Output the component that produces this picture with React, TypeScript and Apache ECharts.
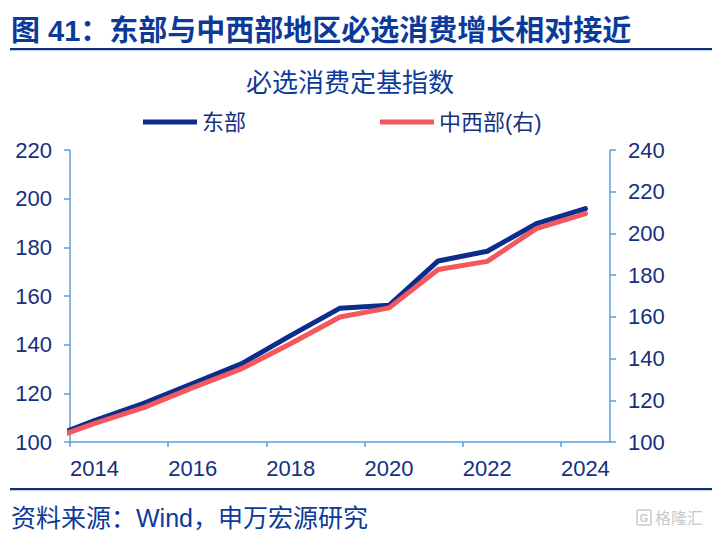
import React, { useEffect, useRef } from "react";
import * as echarts from "echarts";

// Fixed-base index of essential consumption (annual)
const YEARS = [2013, 2014, 2015, 2016, 2017, 2018, 2019, 2020, 2021, 2022, 2023, 2024];
const EAST = [101.0, 108.8, 115.9, 124.0, 132.2, 143.8, 155.0, 156.2, 174.4, 178.4, 189.7, 195.9];
const MIDWEST = [100.5, 108.9, 116.5, 126.1, 135.2, 147.2, 159.9, 164.3, 182.7, 186.6, 202.3, 209.5];
const X_TICKS = [2014, 2016, 2018, 2020, 2022, 2024];
const SERIES_NAMES = ["东部", "中西部(右)"];

const FIG_TITLE = "图 41：东部与中西部地区必选消费增长相对接近";
const CHART_TITLE = "必选消费定基指数";
const SOURCE = "资料来源：Wind，申万宏源研究";

const NAVY = "#15307f";
const TITLE_BLUE = "#0c3a99";
const AXIS = "#5b9fd9";
const BLUE = "#0b2e8c";
const RED = "#f2585d";
const FONT = '"Liberation Sans", Arial, "Noto Sans CJK SC", sans-serif';

export default function App() {
  const ref = useRef<HTMLDivElement>(null);
  useEffect(() => {
    const chart = echarts.init(ref.current!, null, { renderer: "svg" });
    const axisLine = { show: true, onZero: false, lineStyle: { color: AXIS, width: 1.5 } };
    const tickStyle = { color: AXIS, width: 1.5 };
    const labelStyle = { color: NAVY, fontSize: 22, fontFamily: FONT };
    chart.setOption({
      animation: false,
      backgroundColor: "#ffffff",
      grid: { left: 70, right: 102, top: 150, bottom: 92, containLabel: false },
      legend: {
        left: 143,
        top: 111,
        padding: 0,
        icon: "rect",
        itemWidth: 54,
        itemHeight: 5,
        itemGap: 134,
        data: SERIES_NAMES,
        textStyle: { color: NAVY, fontSize: 22, fontFamily: FONT },
      },
      xAxis: {
        type: "value",
        min: 2014,
        max: 2025,
        axisLine,
        axisTick: { show: true, length: 5, lineStyle: tickStyle, customValues: X_TICKS },
        axisLabel: {
          ...labelStyle,
          customValues: X_TICKS,
          align: "left",
          margin: 15,
          formatter: (v: number) => String(v),
        },
        splitLine: { show: false },
      },
      yAxis: [
        {
          type: "value",
          position: "left",
          min: 100,
          max: 220,
          interval: 20,
          axisLine,
          axisTick: { show: true, length: 6, lineStyle: tickStyle },
          axisLabel: { ...labelStyle, margin: 18 },
          splitLine: { show: false },
        },
        {
          type: "value",
          position: "right",
          min: 100,
          max: 240,
          interval: 20,
          axisLine,
          axisTick: { show: true, length: 6, lineStyle: tickStyle },
          axisLabel: { ...labelStyle, margin: 18 },
          splitLine: { show: false },
        },
      ],
      series: [
        {
          name: SERIES_NAMES[0],
          type: "line",
          yAxisIndex: 0,
          symbol: "none",
          clip: true,
          data: YEARS.map((y, i) => [y + 0.5, EAST[i]]),
          lineStyle: { color: BLUE, width: 5, cap: "round", join: "round" },
          itemStyle: { color: BLUE },
        },
        {
          name: SERIES_NAMES[1],
          type: "line",
          yAxisIndex: 1,
          symbol: "none",
          clip: true,
          data: YEARS.map((y, i) => [y + 0.5, MIDWEST[i]]),
          lineStyle: { color: RED, width: 5, cap: "round", join: "round" },
          itemStyle: { color: RED },
        },
      ],
      graphic: [
        {
          type: "text",
          x: 11,
          y: 31,
          style: {
            text: FIG_TITLE,
            fill: TITLE_BLUE,
            fontSize: 29,
            fontWeight: "bold",
            fontFamily: FONT,
            align: "left",
            verticalAlign: "middle",
          },
        },
        { type: "rect", shape: { x: 10, y: 48, width: 702, height: 2.2 }, style: { fill: "#12327f" } },
        {
          type: "text",
          x: 350,
          y: 83,
          style: {
            text: CHART_TITLE,
            fill: TITLE_BLUE,
            fontSize: 26,
            fontFamily: FONT,
            align: "center",
            verticalAlign: "middle",
          },
        },
        { type: "rect", shape: { x: 10, y: 488, width: 702, height: 2.2 }, style: { fill: "#12327f" } },
        {
          type: "text",
          x: 11,
          y: 518,
          style: {
            text: SOURCE,
            fill: TITLE_BLUE,
            fontSize: 25,
            fontFamily: FONT,
            align: "left",
            verticalAlign: "middle",
          },
        },
        {
          type: "rect",
          shape: { x: 637, y: 510, width: 14, height: 15, r: 2 },
          style: { fill: "none", stroke: "#c9c9c9", lineWidth: 1.5 },
        },
        {
          type: "text",
          x: 644,
          y: 518,
          style: { text: "G", fill: "#c9c9c9", fontSize: 11, fontWeight: "bold", fontFamily: FONT, align: "center", verticalAlign: "middle" },
        },
        {
          type: "text",
          x: 655,
          y: 518,
          style: { text: "格隆汇", fill: "#c9c9c9", fontSize: 16, fontFamily: FONT, align: "left", verticalAlign: "middle" },
        },
      ],
    });
    return () => chart.dispose();
  }, []);
  return (
    <div
      ref={ref}
      style={{ position: "fixed", left: 0, top: 0, width: 712, height: 534, background: "#fff" }}
    />
  );
}
